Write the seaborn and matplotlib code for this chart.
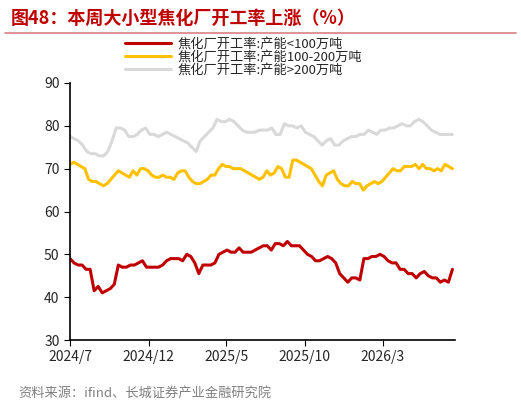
import pandas as pd
import numpy as np
import seaborn as sns
import matplotlib.pyplot as plt

sns.set_style("white")
plt.rcParams['font.family'] = ['Noto Sans CJK SC', 'DejaVu Sans']

# weekly coking plant utilization (%) by capacity class
small_cap = [49, 48, 47.5, 47.5, 46.5, 46.5, 41.5, 42.5, 41, 41.5, 42, 43, 47.5, 47, 47, 47.5, 47.5, 48, 48.5, 47,
             47, 47, 47, 47.5, 48.5, 49, 49, 49, 48.5, 50, 49.5, 48, 45.5, 47.5, 47.5, 47.5, 48, 50, 50.5, 51,
             50.5, 50.5, 51.5, 50.5, 50.5, 50.5, 51, 51.5, 52, 52, 51, 52.5, 52.5, 52, 53, 52, 52, 52, 51, 50,
             49.5, 48.5, 48.5, 49, 49.5, 49, 48, 45.5, 44.5, 43.5, 44.5, 44.5, 44, 49, 49, 49.5, 49.5, 50, 49.5, 48.5,
             48, 48, 46.5, 46.5, 45.5, 45.5, 44.5, 45.5, 46, 45, 44.5, 44.5, 43.5, 44, 43.5, 46.5]
mid_cap = [71, 71.5, 71, 70.5, 70, 67.5, 67, 67, 66.5, 66, 66.5, 67.5, 68.5, 69.5, 69, 68.5, 68, 69.5, 68.5, 70,
           70, 69.5, 68.5, 68, 68, 68.5, 68, 68, 67.5, 69, 69.5, 69.5, 68, 67, 66.5, 66.5, 67, 67.5, 68.5, 68.5,
           70, 71, 70.5, 70.5, 70, 70, 70, 69.5, 69, 68.5, 68, 67.5, 68, 69.5, 68.5, 69, 70.5, 70, 68, 68,
           72, 72, 71.5, 71, 70.5, 70, 68.5, 67, 66, 68.5, 69, 69.5, 67.5, 66.5, 66, 66, 67, 66.5, 66.5, 65,
           66, 66.5, 67, 66.5, 67, 68, 69, 70, 69.5, 69.5, 70.5, 70.5, 70.5, 71, 70, 71, 70, 70, 69.5, 70,
           69.5, 71, 70.5, 70]
large_cap = [77.5, 77, 76.5, 75.5, 74, 73.5, 73.5, 73, 73, 74, 76.5, 79.5, 79.5, 79, 77.5, 77.5, 78, 79, 79.5, 78,
             78, 77.5, 78, 78.5, 78, 77.5, 77, 76.5, 76, 75, 74, 76.5, 77.5, 78.5, 79.5, 81.5, 81, 81, 81.5, 81,
             80, 79, 78.5, 78.5, 78.5, 79, 79, 79, 79.5, 78, 78, 80.5, 80, 80, 79.5, 80, 78.5, 78, 77.5, 76.5,
             75.5, 76.5, 77, 75.5, 75.5, 76.5, 77, 77.5, 77.5, 78, 78, 79, 78.5, 78, 79, 79, 79.5, 79.5, 80, 80.5,
             80, 80, 81, 81.5, 81, 80, 79, 78.5, 78, 78, 78, 78]
start, end = '2024-07-01', '2026-07-15'
labels = ['焦化厂开工率:产能<100万吨', '焦化厂开工率:产能100-200万吨', '焦化厂开工率:产能>200万吨']
colors = ['#C00000', '#FFC000', '#D9D9D9']
tick_dates = ['2024-07-01', '2024-12-01', '2025-05-01', '2025-10-01', '2026-03-01']
tick_labels = ['2024/7', '2024/12', '2025/5', '2025/10', '2026/3']

frames = []
for vals, lab in zip([small_cap, mid_cap, large_cap], labels):
    frames.append(pd.DataFrame({'date': pd.date_range(start, end, periods=len(vals)), 'value': vals, 'series': lab}))
df = pd.concat(frames)

fig = plt.figure(figsize=(5.21, 4.08), dpi=100)
ax = fig.add_axes([70/521, 68/408, 385/521, 257/408])
sns.lineplot(data=df, x='date', y='value', hue='series', palette=colors, linewidth=2.2, ax=ax, legend=True)

ax.set_ylim(30, 90)
ax.set_yticks(range(30, 91, 10))
ax.set_xlim(pd.Timestamp(start), pd.Timestamp('2026-07-20'))
ax.set_xticks(pd.to_datetime(tick_dates))
ax.set_xticklabels(tick_labels)
ax.set_xlabel('')
ax.set_ylabel('')
ax.tick_params(axis='both', labelsize=10, length=4, direction='out', color='black', left=True, bottom=True)
for s in ['top', 'right']:
    ax.spines[s].set_visible(False)
for s in ['left', 'bottom']:
    ax.spines[s].set_color('black')
    ax.spines[s].set_linewidth(1.2)

ax.legend(loc='lower center', bbox_to_anchor=(0.45, 1.0), frameon=False, fontsize=9.5,
          handlelength=3.5, labelspacing=0.0, borderpad=0, handletextpad=0.5)

fig.text(0.02, 0.955, '图48：本周大小型焦化厂开工率上涨（%）', color='#C00000', fontsize=13,
         fontweight='bold', style='italic', va='center')
fig.add_artist(plt.Line2D([0.01, 0.99], [0.918, 0.918], color='#D98080', linewidth=1.2))
fig.text(0.035, 0.035, '资料来源：ifind、长城证券产业金融研究院', color='#808080', fontsize=9.5,
         style='italic', va='center')

plt.savefig('out.png', dpi=100)
plt.close()
